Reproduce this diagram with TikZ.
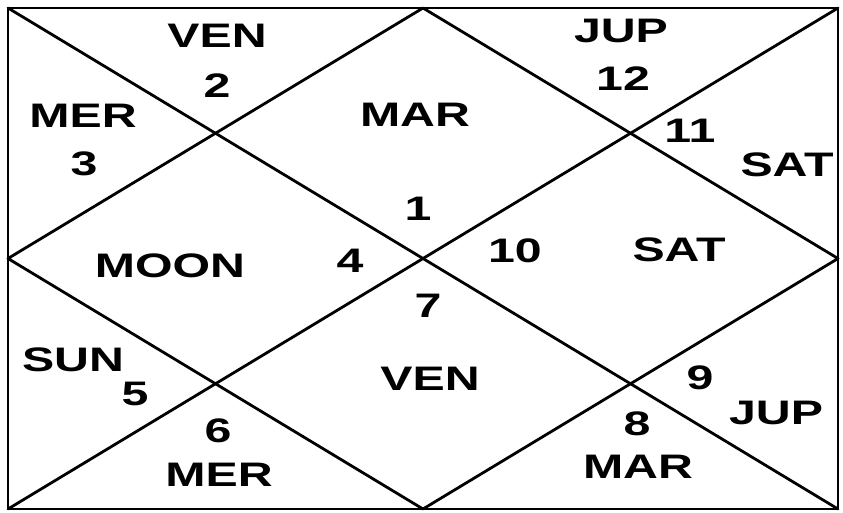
\documentclass[tikz,border=0pt]{standalone}
\usepackage{fontspec}
\setmainfont{Liberation Sans}

\begin{document}
\begin{tikzpicture}[x=1pt,y=-1pt,
  chart/.style={line width=2.8pt,line cap=round,line join=round},
  house/.style={font=\bfseries\fontsize{34}{34}\selectfont,xscale=1.42,inner sep=0pt}]
\useasboundingbox (0,0) rectangle (843,512);
% frame corners and side midpoints
\coordinate (TL) at (8,8);
\coordinate (TR) at (838,8);
\coordinate (BR) at (838,509);
\coordinate (BL) at (8,509);
\coordinate (T) at (423,8);
\coordinate (R) at (838,258.5);
\coordinate (B) at (423,509);
\coordinate (L) at (8,258.5);

\draw[chart] (TL) -- (TR) -- (BR) -- (BL) -- cycle;
\draw[chart] (TL) -- (BR);
\draw[chart] (TR) -- (BL);
\draw[chart] (T) -- (R) -- (B) -- (L) -- cycle;

% house numbers
\node[house] (h1) at (418,209) {1};
\node[house] (h2) at (217,86) {2};
\node[house] (h3) at (84,164) {3};
\node[house] (h4) at (350,261) {4};
\node[house] (h5) at (135,394) {5};
\node[house] (h6) at (218,431) {6};
\node[house] (h7) at (428,306) {7};
\node[house] (h8) at (637,424) {8};
\node[house] (h9) at (700,378) {9};
\node[house] (h10) at (515,251) {10};
\node[house] (h11) at (690,131) {11};
\node[house] (h12) at (623,79) {12};

% planets
\node[house] (mar1) at (415,115) {MAR};
\node[house] (ven2) at (217,36) {VEN};
\node[house] (mer3) at (83,116) {MER};
\node[house] (moon4) at (170,266) {MOON};
\node[house] (sun5) at (73,360) {SUN};
\node[house] (mer6) at (219,475) {MER};
\node[house] (ven7) at (430,379) {VEN};
\node[house] (mar8) at (638,467) {MAR};
\node[house] (jup9) at (776,413) {JUP};
\node[house] (sat10) at (679,250) {SAT};
\node[house] (sat11) at (787,165) {SAT};
\node[house] (jup12) at (621,31) {JUP};

\end{tikzpicture}
\end{document}
